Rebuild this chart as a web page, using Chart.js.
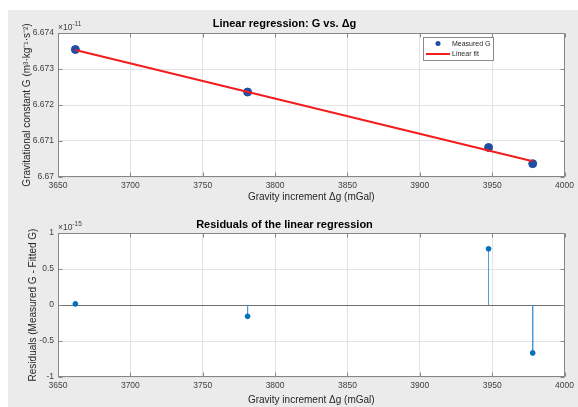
<!DOCTYPE html>
<html>
<head>
<meta charset="utf-8">
<script src="https://cdn.jsdelivr.net/npm/chart.js@4.4.1/dist/chart.umd.min.js"></script>
<style>
  html, body { margin: 0; padding: 0; background: #fff; }
  #fig { position: absolute; left: 8px; top: 10px; width: 570px; height: 397px; background: #ebebeb; }
  canvas { position: absolute; left: 0; }
  #gChart { top: 0; }
  #resChart { top: 205px; }
</style>
</head>
<body>
<div id="fig"></div>
<canvas id="gChart" width="578" height="205"></canvas>
<canvas id="resChart" width="578" height="202"></canvas>
<script>
// data
const gravityIncrement = [3662, 3781, 3947.5, 3978];          // mGal
const measuredG = [6.67354, 6.67236, 6.67082, 6.67037];       // x 1e-11
const fitX = [3662, 3978];
const fitG = [6.67353, 6.67044];                              // x 1e-11
const residuals = [0.015, -0.157, 0.78, -0.667];              // x 1e-15

const xTickValues = [3650, 3700, 3750, 3800, 3850, 3900, 3950, 4000];
const gTickValues = [6.67, 6.671, 6.672, 6.673, 6.674];
const gTickLabels = ['6.67', '6.671', '6.672', '6.673', '6.674'];
const resTickValues = [-1, -0.5, 0, 0.5, 1];
const resTickLabels = ['-1', '-0.5', '0', '0.5', '1'];

const FONT = '"Liberation Sans", Arial, Helvetica, sans-serif';
const AXIS_COLOR = '#868686';
const TEXT_COLOR = '#404040';
const GRID_COLOR = '#e3e3e3';

Chart.defaults.font.family = FONT;
Chart.defaults.color = TEXT_COLOR;

// MATLAB-like white plot area, box, inward ticks and the x10^n exponent
const matlabAxes = {
  id: 'matlabAxes',
  beforeDraw(chart) {
    const { ctx, chartArea: a } = chart;
    ctx.save();
    ctx.fillStyle = '#fff';
    ctx.fillRect(a.left, a.top, a.right - a.left, a.bottom - a.top);
    ctx.restore();
  },
  afterDatasetsDraw(chart, args, opts) {
    const { ctx, chartArea: a, scales: { x, y } } = chart;
    const L = Math.round(a.left) + 0.5, R = Math.round(a.right) - 0.5;
    const T = Math.round(a.top) + 0.5, B = Math.round(a.bottom) - 0.5;
    ctx.save();
    ctx.strokeStyle = AXIS_COLOR;
    ctx.lineWidth = 1;
    ctx.beginPath();
    x.ticks.forEach(t => {
      const px = Math.round(x.getPixelForValue(t.value)) + 0.5;
      ctx.moveTo(px, B); ctx.lineTo(px, B - 4);
      ctx.moveTo(px, T); ctx.lineTo(px, T + 4);
    });
    y.ticks.forEach(t => {
      const py = Math.round(y.getPixelForValue(t.value)) + 0.5;
      ctx.moveTo(L, py); ctx.lineTo(L + 4, py);
      ctx.moveTo(R, py); ctx.lineTo(R - 4, py);
    });
    ctx.stroke();
    ctx.strokeRect(L, T, R - L, B - T);

    // exponent label
    ctx.fillStyle = TEXT_COLOR;
    ctx.textBaseline = 'alphabetic';
    ctx.textAlign = 'left';
    ctx.font = '8.5px ' + FONT;
    ctx.fillText('\u00d710', a.left, a.top - 3);
    const w = ctx.measureText('\u00d710').width;
    ctx.font = '6.5px ' + FONT;
    ctx.fillText(opts.exponent, a.left + w, a.top - 7);
    ctx.restore();
  }
};

// legend box inside the upper axes
const boxLegend = {
  id: 'boxLegend',
  afterDraw(chart) {
    const { ctx } = chart;
    const pts = chart.data.datasets[1];
    const fit = chart.data.datasets[0];
    ctx.save();
    ctx.fillStyle = '#fff';
    ctx.fillRect(423.5, 37.5, 70, 23);
    ctx.strokeStyle = '#8a8a8a';
    ctx.lineWidth = 1;
    ctx.strokeRect(423.5, 37.5, 70, 23);
    ctx.fillStyle = pts.backgroundColor;
    ctx.beginPath();
    ctx.arc(438, 43.5, 2.5, 0, Math.PI * 2);
    ctx.fill();
    ctx.strokeStyle = fit.borderColor;
    ctx.lineWidth = 2;
    ctx.beginPath();
    ctx.moveTo(426, 54); ctx.lineTo(450, 54);
    ctx.stroke();
    ctx.fillStyle = '#262626';
    ctx.font = '7px ' + FONT;
    ctx.textBaseline = 'middle';
    ctx.fillText(pts.label, 452, 44);
    ctx.fillText(fit.label, 452, 54.5);
    ctx.restore();
  }
};

function xScale(min, max, titlePadBottom, height) {
  return {
    type: 'linear', min, max,
    afterBuildTicks: s => { s.ticks = xTickValues.map(v => ({ value: v })); },
    afterFit: s => { s.height = height; },
    grid: { color: GRID_COLOR, drawTicks: false },
    border: { display: false },
    ticks: { padding: 4, font: { size: 8.5 }, color: TEXT_COLOR, maxRotation: 0, callback: v => String(v) },
    title: { display: true, text: 'Gravity increment \u0394g (mGal)', font: { size: 10 }, color: '#262626', padding: { top: 0, bottom: titlePadBottom } }
  };
}

// upper: G vs delta g
new Chart(document.getElementById('gChart'), {
  type: 'scatter',
  data: {
    datasets: [
      {
        label: 'Linear fit',
        type: 'line',
        data: fitX.map((x, i) => ({ x, y: fitG[i] })),
        borderColor: '#f41c1c',
        borderWidth: 2,
        pointRadius: 0,
        order: 0
      },
      {
        label: 'Measured G',
        data: gravityIncrement.map((x, i) => ({ x, y: measuredG[i] })),
        backgroundColor: '#1f4ea3',
        borderColor: '#1f4ea3',
        pointRadius: 4,
        order: 1
      }
    ]
  },
  options: {
    responsive: false,
    animation: false,
    layout: { padding: { left: 0, right: 9, top: 0, bottom: 0 } },
    plugins: {
      legend: { display: false },
      tooltip: { enabled: false },
      title: { display: true, text: 'Linear regression: G vs. \u0394g', color: '#000', font: { size: 11, weight: 'bold' }, padding: { top: 17.4, bottom: 2.4 } },
      matlabAxes: { exponent: '-11' }
    },
    scales: {
      x: xScale(3650, 4000, 1.5, 28),
      y: {
        type: 'linear', min: 6.67, max: 6.674,
        afterBuildTicks: s => { s.ticks = gTickValues.map(v => ({ value: v })); },
        afterFit: s => { s.width = 58; },
        grid: { color: GRID_COLOR, drawTicks: false },
        border: { display: false },
        ticks: { padding: 4, font: { size: 8.5 }, color: TEXT_COLOR, callback: (v, i) => gTickLabels[i] },
        title: { display: true, text: 'Gravitational constant G (m\u00b3\u00b7kg\u207b\u00b9\u00b7s\u207b\u00b2)', font: { size: 10 }, color: '#262626', padding: { top: 21, bottom: 0 } }
      }
    }
  },
  plugins: [matlabAxes, boxLegend]
});

// lower: residual stems
const stemData = [];
gravityIncrement.forEach((x, i) => {
  stemData.push({ x, y: 0 }, { x, y: residuals[i] }, { x: null, y: null });
});

new Chart(document.getElementById('resChart'), {
  type: 'scatter',
  data: {
    datasets: [
      {
        label: 'Residuals',
        data: gravityIncrement.map((x, i) => ({ x, y: residuals[i] })),
        backgroundColor: '#0072bd',
        borderColor: '#0072bd',
        pointRadius: 2.4,
        order: 0
      },
      {
        label: 'Stems',
        type: 'line',
        data: stemData,
        borderColor: '#4a9bd4',
        borderWidth: 1,
        pointRadius: 0,
        spanGaps: false,
        order: 1
      }
    ]
  },
  options: {
    responsive: false,
    animation: false,
    layout: { padding: { left: 0, right: 9, top: 0, bottom: 0 } },
    plugins: {
      legend: { display: false },
      tooltip: { enabled: false },
      title: { display: true, text: 'Residuals of the linear regression', color: '#000', font: { size: 11, weight: 'bold' }, padding: { top: 13.4, bottom: 1.4 } },
      matlabAxes: { exponent: '-15' }
    },
    scales: {
      x: xScale(3650, 4000, 1, 30),
      y: {
        type: 'linear', min: -1, max: 1,
        afterBuildTicks: s => { s.ticks = resTickValues.map(v => ({ value: v })); },
        afterFit: s => { s.width = 58; },
        grid: { color: ctx => (ctx.tick && ctx.tick.value === 0 ? '#6e6e6e' : GRID_COLOR), drawTicks: false },
        border: { display: false },
        ticks: { padding: 4, font: { size: 8.5 }, color: TEXT_COLOR, callback: (v, i) => resTickLabels[i] },
        title: { display: true, text: 'Residuals (Measured G - Fitted G)', font: { size: 10 }, color: '#262626', padding: { top: 27, bottom: 0 } }
      }
    }
  },
  plugins: [matlabAxes]
});
</script>
</body>
</html>
